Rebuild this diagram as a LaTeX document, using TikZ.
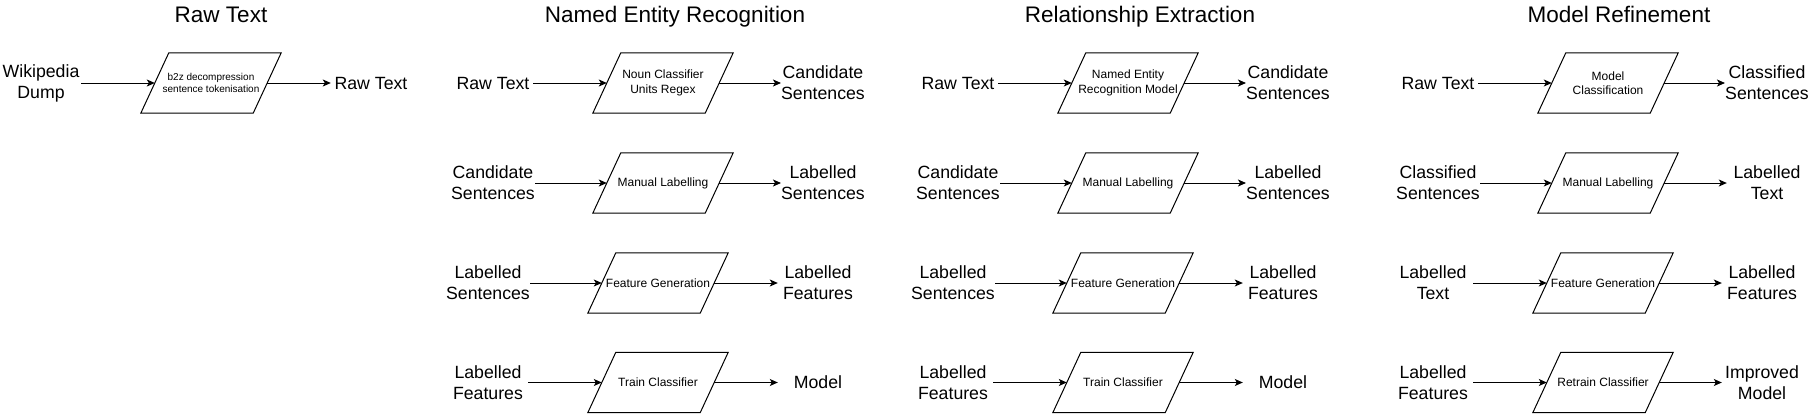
\documentclass[tikz,border=0pt]{standalone}
\usepackage{fontspec}
\setmainfont{Liberation Sans}
\usepackage{tikz}
\usetikzlibrary{arrows.meta}

\begin{document}
\begin{tikzpicture}[x=1pt, y=-1pt,
    >={Stealth[length=8pt, width=7pt, inset=2pt]},
    heading/.style={anchor=base, font=\fontsize{22.5}{27}\selectfont},
    lbl/.style={align=center, inner sep=0pt, minimum width=80pt, font=\fontsize{17.7}{21}\selectfont},
    procbox/.style={minimum width=112pt, minimum height=60pt, inner sep=0pt, align=center,
      font=\fontsize{12}{14.4}\selectfont,
      append after command={\pgfextra{\draw[line width=1pt, overlay]
        ([xshift=14pt]\tikzlastnode.north west) -- ([xshift=14pt]\tikzlastnode.north east) --
        ([xshift=-14pt]\tikzlastnode.south east) -- ([xshift=-14pt]\tikzlastnode.south west) -- cycle;}}},
    flow/.style={->, line width=1pt}]
    \useasboundingbox (0,0) rectangle (1812,413);

    % Stage headings
    \node[heading] (hraw) at (221,22) {Raw Text};
    \node[heading] (hner) at (675,22) {Named Entity Recognition};
    \node[heading] (hrel) at (1140,22) {Relationship Extraction};
    \node[heading] (href) at (1619,22) {Model Refinement};

    % Raw text stage
    \node[lbl] (dump) at (41,83) {Wikipedia\\Dump};
    \node[procbox, font=\fontsize{10}{12}\selectfont] (decomp) at (211,83) {b2z decompression\\sentence tokenisation};
    \node[lbl] (rawout) at (371,83) {Raw Text};
    \draw[flow] (dump) -- (decomp);
    \draw[flow] (decomp) -- (rawout);

    % Named entity recognition stage
    \node[lbl] (nerraw) at (493,83) {Raw Text};
    \node[procbox] (nernoun) at (663,83) {Noun Classifier\\Units Regex};
    \node[lbl] (nercand) at (823,83) {Candidate\\Sentences};
    \node[lbl] (nercandin) at (493,183) {Candidate\\Sentences};
    \node[procbox] (nermanual) at (663,183) {Manual Labelling};
    \node[lbl] (nerlab) at (823,183) {Labelled\\Sentences};
    \node[lbl] (nerlabin) at (488,283) {Labelled\\Sentences};
    \node[procbox] (nerfeat) at (658,283) {Feature Generation};
    \node[lbl] (nerfeatout) at (818,283) {Labelled\\Features};
    \node[lbl] (nerfeatin) at (488,382.5) {Labelled\\Features};
    \node[procbox] (nertrain) at (658,382.5) {Train Classifier};
    \node[lbl] (nermodel) at (818,382.5) {Model};
    \draw[flow] (nerraw) -- (nernoun);
    \draw[flow] (nernoun) -- (nercand);
    \draw[flow] (nercandin) -- (nermanual);
    \draw[flow] (nermanual) -- (nerlab);
    \draw[flow] (nerlabin) -- (nerfeat);
    \draw[flow] (nerfeat) -- (nerfeatout);
    \draw[flow] (nerfeatin) -- (nertrain);
    \draw[flow] (nertrain) -- (nermodel);

    % Relationship extraction stage
    \node[lbl] (relraw) at (958,83) {Raw Text};
    \node[procbox] (relner) at (1128,83) {Named Entity\\Recognition Model};
    \node[lbl] (relcand) at (1288,83) {Candidate\\Sentences};
    \node[lbl] (relcandin) at (958,183) {Candidate\\Sentences};
    \node[procbox] (relmanual) at (1128,183) {Manual Labelling};
    \node[lbl] (rellab) at (1288,183) {Labelled\\Sentences};
    \node[lbl] (rellabin) at (953,283) {Labelled\\Sentences};
    \node[procbox] (relfeat) at (1123,283) {Feature Generation};
    \node[lbl] (relfeatout) at (1283,283) {Labelled\\Features};
    \node[lbl] (relfeatin) at (953,382.5) {Labelled\\Features};
    \node[procbox] (reltrain) at (1123,382.5) {Train Classifier};
    \node[lbl] (relmodel) at (1283,382.5) {Model};
    \draw[flow] (relraw) -- (relner);
    \draw[flow] (relner) -- (relcand);
    \draw[flow] (relcandin) -- (relmanual);
    \draw[flow] (relmanual) -- (rellab);
    \draw[flow] (rellabin) -- (relfeat);
    \draw[flow] (relfeat) -- (relfeatout);
    \draw[flow] (relfeatin) -- (reltrain);
    \draw[flow] (reltrain) -- (relmodel);

    % Model refinement stage
    \node[lbl] (refraw) at (1438,83) {Raw Text};
    \node[procbox] (refclass) at (1608,83) {Model\\Classification};
    \node[lbl] (refcls) at (1767,83) {Classified\\Sentences};
    \node[lbl] (refclsin) at (1438,183) {Classified\\Sentences};
    \node[procbox] (refmanual) at (1608,183) {Manual Labelling};
    \node[lbl] (reflab) at (1767,183) {Labelled\\Text};
    \node[lbl] (reflabin) at (1433,283) {Labelled\\Text};
    \node[procbox] (reffeat) at (1603,283) {Feature Generation};
    \node[lbl] (reffeatout) at (1762,283) {Labelled\\Features};
    \node[lbl] (reffeatin) at (1433,382.5) {Labelled\\Features};
    \node[procbox] (refretrain) at (1603,382.5) {Retrain Classifier};
    \node[lbl] (refmodel) at (1762,382.5) {Improved\\Model};
    \draw[flow] (refraw) -- (refclass);
    \draw[flow] (refclass) -- (refcls);
    \draw[flow] (refclsin) -- (refmanual);
    \draw[flow] (refmanual) -- (reflab);
    \draw[flow] (reflabin) -- (reffeat);
    \draw[flow] (reffeat) -- (reffeatout);
    \draw[flow] (reffeatin) -- (refretrain);
    \draw[flow] (refretrain) -- (refmodel);
\end{tikzpicture}
\end{document}
